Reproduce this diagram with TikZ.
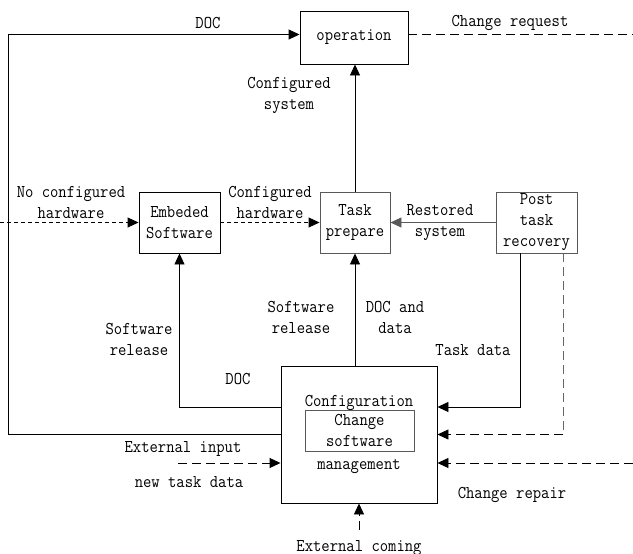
\documentclass[tikz,border=0pt]{standalone}
\usepackage{fontspec}
\setmonofont{Latin Modern Mono}[FakeStretch=0.9]
\usetikzlibrary{arrows.meta}
\begin{document}
\begin{tikzpicture}[x=1pt,y=-1pt,
  every node/.style={font=\ttfamily\fontsize{18}{21}\selectfont, align=center, inner sep=0pt},
  box/.style={draw, line width=0.9pt},
  arr/.style={line width=0.9pt, -{Triangle[length=11pt,width=10pt]}},
  ln/.style={line width=0.9pt},
  longdash/.style={dash pattern=on 9pt off 5pt},
  shortdash/.style={dash pattern=on 4pt off 3pt},
  soft/.style={draw=black!65}]
\useasboundingbox (0,0) rectangle (633,554);

% boxes
\node[box, minimum width=108pt, minimum height=53pt] (op) at (354,37.5) {operation};
\node[box, minimum width=81pt, minimum height=61pt] (emb) at (179.5,222.5) {Embeded\\Software};
\node[box, soft, minimum width=70pt, minimum height=61pt] (task) at (355,222.5) {Task\\prepare};
\node[box, soft, minimum width=81pt, minimum height=61pt] (post) at (536.5,222.5) {Post\\task\\recovery};
\node[box, minimum width=156pt, minimum height=137pt] (cfg) at (359,434.5) {};
\node (cfgt) at (359,403) {Configuration};
\node[box, soft, minimum width=109pt, minimum height=41pt] (inner) at (359.5,430.5) {Change\\software};
\node (mgmt) at (359,467) {management};

% corner and free-end points
\coordinate (tl) at (8,34.5);
\coordinate (bl) at (8,434.5);
\coordinate (cr) at (633,34.5);
\coordinate (nc) at (0,222.5);
\coordinate (ce) at (179.5,407);
\coordinate (ps) at (520,407);
\coordinate (pd) at (563,434.5);
\coordinate (rp) at (633,463);
\coordinate (ei) at (178,463);
\coordinate (ec) at (359,530);

% connectors
\draw[arr] (cfg.west) -- (bl) -- (tl) -- (tl -| op.west);
\draw[ln, longdash] (tl -| op.east) -- (cr);
\draw[arr] (task.north) -- (task.north |- op.south);
\draw[arr, shortdash] (nc) -- (emb.west);
\draw[arr, shortdash] (emb.east) -- (task.west);
\draw[arr, draw=black!65] (post.west) -- (task.east);
\draw[arr] (ce -| cfg.west) -- (ce) -- (emb.south);
\draw[arr] (task.south |- cfg.north) -- (task.south);
\draw[arr] (post.south -| ps) -- (ps) -- (ps -| cfg.east);
\draw[ln, longdash, draw=black!60] (pd |- post.south) -- (pd);
\draw[arr, longdash] (pd) -- (pd -| cfg.east);
\draw[arr, longdash] (rp) -- (rp -| cfg.east);
\draw[arr, longdash] (ei) -- (ei -| cfg.west);
\draw[arr, longdash] (ec) -- (cfg.south);

% labels
\node (l1) at (208,23) {DOC};
\node (l2) at (510,23) {Change request};
\node (l3) at (289,95.5) {Configured\\system};
\node (l4) at (71,202.5) {No configured\\hardware};
\node (l5) at (270,202.5) {Configured\\hardware};
\node (l6) at (440,222.5) {Restored\\system};
\node (l7) at (139,339.5) {Software\\release};
\node (l8) at (301,317.5) {Software\\release};
\node (l9) at (395,317.5) {DOC and\\data};
\node (l10) at (473,350) {Task data};
\node (l11) at (238,379) {DOC};
\node (l12) at (183,449) {External input};
\node (l13) at (189,482) {new task data};
\node (l14) at (512,495) {Change repair};
\node (l15) at (359,548) {External coming};
\end{tikzpicture}
\end{document}
